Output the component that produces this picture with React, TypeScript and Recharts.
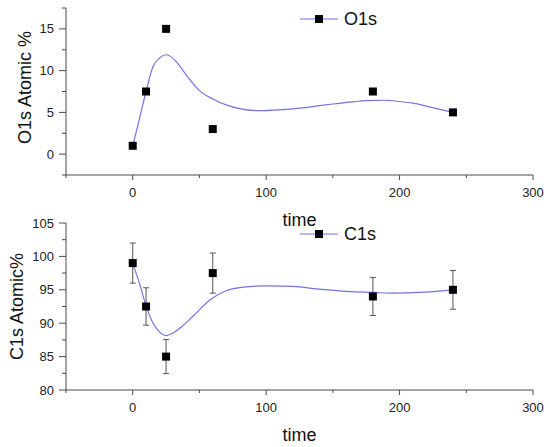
import { ComposedChart, ErrorBar, Line, Scatter, XAxis, YAxis } from "recharts";

// measured points
const TIME = [0, 10, 25, 60, 180, 240];
const O1S = [1, 7.5, 15, 3, 7.5, 5];
const C1S = [99, 92.5, 85, 97.5, 94, 95];
const C1S_ERR = [3, 2.8, 2.55, 3, 2.85, 2.9];

// smoothed curves
const O1S_FIT_TIME = [0, 5, 10, 15, 20, 25, 30, 35, 40, 50, 60, 70, 80, 95, 110, 125, 140, 150, 165, 175, 188, 200, 210, 225, 240];
const O1S_FIT = [1, 4.2, 7.5, 10.4, 11.5, 11.9, 11.5, 10.6, 9.5, 7.6, 6.6, 5.9, 5.45, 5.2, 5.3, 5.5, 5.8, 6.0, 6.25, 6.4, 6.45, 6.3, 6.1, 5.55, 5.0];
const C1S_FIT_TIME = [0, 5, 10, 15, 20, 25, 30, 35, 45, 58, 70, 83, 100, 120, 140, 160, 180, 195, 215, 240];
const C1S_FIT = [99, 96, 92.6, 90.1, 88.7, 88.15, 88.5, 89.2, 91.0, 93.5, 94.85, 95.4, 95.6, 95.5, 95.1, 94.75, 94.6, 94.5, 94.6, 95.0];

const TIME_TICKS = [-50, 0, 50, 100, 150, 200, 250, 300];
const O1S_TICKS = [-2.5, 0, 2.5, 5, 7.5, 10, 12.5, 15, 17.5];
const C1S_TICKS = [80, 82.5, 85, 87.5, 90, 92.5, 95, 97.5, 100, 102.5, 105];

const FONT = "'Liberation Sans', Arial, sans-serif";
const AXIS = "#4a4a4a";
const CURVE = "#7474e0";
const W = 550;
const H = 232;

function XTick(props: any) {
  const { x, y, payload } = props;
  const major = payload.value % 100 === 0;
  return (
    <g>
      <line x1={x} x2={x} y1={y} y2={y + (major ? 5 : 3)} stroke={AXIS} />
      {major && (
        <text x={x} y={y + 13} dy="0.71em" textAnchor="middle" fontSize={13} fontFamily={FONT} fill="#222">
          {payload.value}
        </text>
      )}
    </g>
  );
}

function YTick(props: any) {
  const { x, y, payload } = props;
  const major = payload.value % 5 === 0;
  return (
    <g>
      <line x1={x - (major ? 7 : 4)} x2={x} y1={y} y2={y} stroke={AXIS} />
      {major && (
        <text x={x - 12} y={y} dy="0.355em" textAnchor="end" fontSize={13} fontFamily={FONT} fill="#222">
          {payload.value}
        </text>
      )}
    </g>
  );
}

function SeriesKey({ name }: { name: string }) {
  return (
    <svg width={110} height={30} style={{ position: "absolute", left: 295, top: 4 }}>
      <line x1={5} x2={43} y1={15} y2={15} stroke={CURVE} strokeWidth={1.2} />
      <rect x={20} y={11} width={8} height={8} fill="#000" />
      <text x={49} y={15} dy="0.36em" fontSize={18} fontFamily={FONT} fill="#111">
        {name}
      </text>
    </svg>
  );
}

interface PanelProps {
  top: number;
  name: string;
  title: string;
  titleX: number;
  titleShift: number;
  points: { t: number; v: number; err?: number }[];
  fit: { t: number; v: number }[];
  domain: [number, number];
  yTicks: number[];
  errors?: boolean;
}

function Panel({ top, name, title, titleX, titleShift, points, fit, domain, yTicks, errors }: PanelProps) {
  return (
    <div style={{ position: "absolute", left: 0, top, width: W, height: H }}>
      <ComposedChart width={W} height={H} margin={{ top: 8, right: 17, left: 0, bottom: 0 }}>
        <XAxis
          dataKey="t"
          type="number"
          domain={[-50, 300]}
          ticks={TIME_TICKS}
          interval={0}
          allowDataOverflow
          height={57}
          tickSize={0}
          tickMargin={0}
          tickLine={false}
          tick={<XTick />}
          axisLine={{ stroke: AXIS }}
          label={{
            content: (p: any) => (
              <text
                x={p.viewBox.x + p.viewBox.width / 2}
                y={p.viewBox.y + p.viewBox.height - 6}
                textAnchor="middle"
                fontSize={18}
                fontFamily={FONT}
                fill="#111"
              >
                time
              </text>
            ),
          }}
        />
        <YAxis
          dataKey="v"
          type="number"
          domain={domain}
          ticks={yTicks}
          interval={0}
          allowDataOverflow
          width={66}
          tickSize={0}
          tickMargin={0}
          tickLine={false}
          tick={<YTick />}
          axisLine={{ stroke: AXIS }}
          label={{
            content: (p: any) => {
              const cx = p.viewBox.x + titleX;
              const cy = p.viewBox.y + p.viewBox.height / 2 + titleShift;
              return (
                <text
                  x={cx}
                  y={cy}
                  dy="0.36em"
                  textAnchor="middle"
                  transform={`rotate(-90, ${cx}, ${cy})`}
                  fontSize={18}
                  fontFamily={FONT}
                  fill="#111"
                >
                  {title}
                </text>
              );
            },
          }}
        />
        <Line
          data={fit}
          dataKey="v"
          type="monotone"
          stroke={CURVE}
          strokeWidth={1.2}
          dot={false}
          activeDot={false}
          isAnimationActive={false}
        />
        <Scatter data={points} dataKey="v" fill="#000" shape="square" isAnimationActive={false}>
          {errors && <ErrorBar dataKey="err" direction="y" width={3} stroke="#555" strokeWidth={1} />}
        </Scatter>
      </ComposedChart>
      <SeriesKey name={name} />
    </div>
  );
}

export default function App() {
  const o1sPoints = TIME.map((t, i) => ({ t, v: O1S[i] }));
  const o1sFit = O1S_FIT_TIME.map((t, i) => ({ t, v: O1S_FIT[i] }));
  const c1sPoints = TIME.map((t, i) => ({ t, v: C1S[i], err: C1S_ERR[i] }));
  const c1sFit = C1S_FIT_TIME.map((t, i) => ({ t, v: C1S_FIT[i] }));
  return (
    <div style={{ position: "absolute", left: 0, top: 0, width: W, height: 447, background: "#fff", fontFamily: FONT }}>
      <Panel
        top={0}
        name="O1s"
        title="O1s Atomic %"
        titleX={25}
        titleShift={-4}
        points={o1sPoints}
        fit={o1sFit}
        domain={[-2.5, 17.5]}
        yTicks={O1S_TICKS}
      />
      <Panel
        top={215}
        name="C1s"
        title="C1s Atomic%"
        titleX={17}
        titleShift={0}
        points={c1sPoints}
        fit={c1sFit}
        domain={[80, 105]}
        yTicks={C1S_TICKS}
        errors
      />
    </div>
  );
}
